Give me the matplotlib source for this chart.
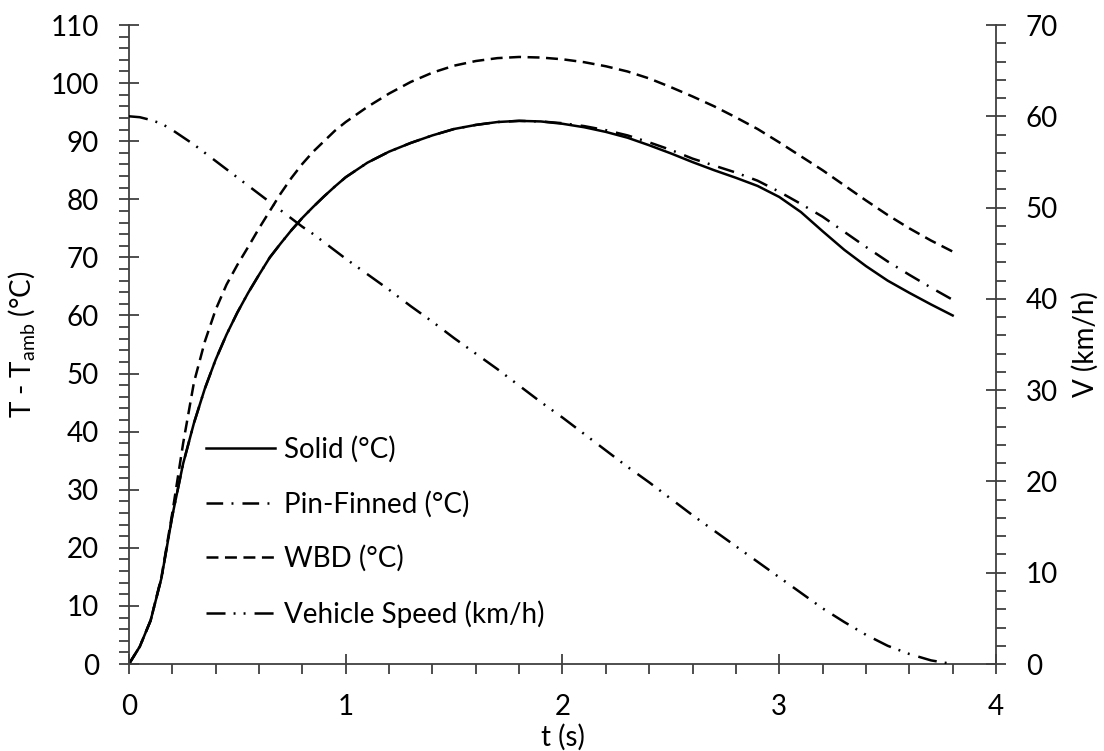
import matplotlib
matplotlib.use("Agg")
import matplotlib.pyplot as plt
from matplotlib.ticker import MultipleLocator

plt.rcParams["font.family"] = ["Lato", "DejaVu Sans"]
plt.rcParams["mathtext.default"] = "regular"
plt.rcParams["lines.scale_dashes"] = False

# time samples (s)
t = [0.0, 0.05, 0.1, 0.15, 0.2, 0.25, 0.3, 0.35, 0.4, 0.45, 0.5, 0.55, 0.6,
     0.65, 0.7, 0.75, 0.8, 0.85, 0.9, 0.95, 1.0, 1.1, 1.2, 1.3, 1.4, 1.5, 1.6,
     1.7, 1.8, 1.9, 2.0, 2.1, 2.2, 2.3, 2.4, 2.5, 2.6, 2.7, 2.8, 2.9, 3.0, 3.1,
     3.2, 3.3, 3.4, 3.5, 3.6, 3.7, 3.8]

# temperature rise above ambient (°C)
solid = [0.0, 3.0, 7.5, 14.8, 25.5, 34.5, 41.5, 47.4, 52.4, 56.7, 60.5, 63.9,
         67.0, 70.0, 72.4, 74.7, 76.8, 78.7, 80.5, 82.2, 83.8, 86.3, 88.2,
         89.7, 91.0, 92.1, 92.8, 93.3, 93.5, 93.4, 93.0, 92.4, 91.6, 90.6,
         89.3, 87.9, 86.4, 85.0, 83.7, 82.3, 80.4, 77.8, 74.5, 71.3, 68.5,
         66.0, 63.9, 61.9, 60.0]

pin_finned = [0.0, 3.0, 7.5, 14.8, 25.5, 34.5, 41.5, 47.4, 52.4, 56.7, 60.5,
              63.9, 67.0, 70.0, 72.4, 74.7, 76.8, 78.7, 80.5, 82.2, 83.8,
              86.3, 88.2, 89.7, 91.0, 92.1, 92.8, 93.3, 93.5, 93.4, 93.1,
              92.6, 91.9, 91.0, 89.8, 88.5, 87.0, 85.8, 84.6, 83.2, 81.3,
              79.2, 77.0, 74.4, 71.8, 69.3, 67.0, 64.8, 62.7]

wbd = [0.0, 3.0, 7.5, 15.0, 26.0, 38.0, 48.5, 55.5, 61.0, 65.3, 68.7, 71.8,
       75.0, 78.0, 81.0, 83.7, 86.1, 88.2, 90.0, 91.8, 93.3, 95.9, 98.2,
       100.2, 101.8, 103.0, 103.8, 104.3, 104.5, 104.4, 104.1, 103.6, 102.9,
       102.0, 100.8, 99.3, 97.7, 96.0, 94.1, 92.1, 89.8, 87.4, 85.0, 82.4,
       79.8, 77.3, 75.0, 72.9, 71.0]

# vehicle speed (km/h)
speed = [60.0, 59.9, 59.6, 59.2, 58.5, 57.7, 56.9, 56.0, 55.1, 54.2, 53.3,
         52.4, 51.5, 50.6, 49.7, 48.8, 47.9, 47.1, 46.2, 45.3, 44.4, 42.7,
         41.0, 39.2, 37.5, 35.7, 34.0, 32.3, 30.5, 28.7, 27.0, 25.2, 23.4,
         21.6, 19.9, 18.1, 16.3, 14.6, 12.9, 11.2, 9.5, 7.8, 6.1, 4.6, 3.2,
         2.0, 1.1, 0.4, 0.0]

FS = 20
AXIS_COLOR = "#404040"

fig, ax = plt.subplots(figsize=(11.04, 7.51), dpi=100)
fig.subplots_adjust(left=0.1168, right=0.9022, top=0.9667, bottom=0.1158)
ax2 = ax.twinx()

lw = 1.8
l1, = ax.plot(t, solid, color="black", lw=lw, label="Solid (°C)")
l2, = ax.plot(t, pin_finned, color="black", lw=lw, dashes=[12, 6, 1.4, 6.5],
              label="Pin-Finned (°C)")
l3, = ax.plot(t, wbd, color="black", lw=lw, dashes=[8.6, 4.7],
              label="WBD (°C)")
l4, = ax2.plot(t, speed, color="black", lw=lw,
               dashes=[13.7, 5.8, 1.4, 5.8, 1.4, 6.5],
               label="Vehicle Speed (km/h)")

ax.set_xlim(0, 4)
ax.set_ylim(0, 110)
ax2.set_ylim(0, 70)

ax.xaxis.set_major_locator(MultipleLocator(1))
ax.xaxis.set_minor_locator(MultipleLocator(0.2))
ax.yaxis.set_major_locator(MultipleLocator(10))
ax.yaxis.set_minor_locator(MultipleLocator(2))
ax2.yaxis.set_major_locator(MultipleLocator(10))
ax2.yaxis.set_minor_locator(MultipleLocator(2))

for a in (ax, ax2):
    a.spines["top"].set_visible(False)
    for s in a.spines.values():
        s.set_color(AXIS_COLOR)
        s.set_linewidth(1.3)
    a.tick_params(which="major", direction="inout", length=15, width=1.3,
                  color=AXIS_COLOR, labelsize=FS, pad=14, labelcolor="black")
    a.tick_params(which="minor", direction="out", length=7, width=1.3,
                  color=AXIS_COLOR)
ax.spines["right"].set_visible(False)
ax2.spines["left"].set_visible(False)
ax2.spines["bottom"].set_visible(False)

ax.set_xlabel("t (s)", fontsize=FS, labelpad=3)
ax.set_ylabel("T - T$_{amb}$ (°C)", fontsize=FS, labelpad=10)
ax2.set_ylabel("V (km/h)", fontsize=FS, labelpad=10)

ax.legend(handles=[l1, l2, l3, l4], loc="center left",
          bbox_to_anchor=(0.0888, 0.207), frameon=False, fontsize=FS,
          handlelength=2.5, handletextpad=0.3, labelspacing=1.0,
          borderpad=0, borderaxespad=0)

fig.savefig("out.png", dpi=100)
